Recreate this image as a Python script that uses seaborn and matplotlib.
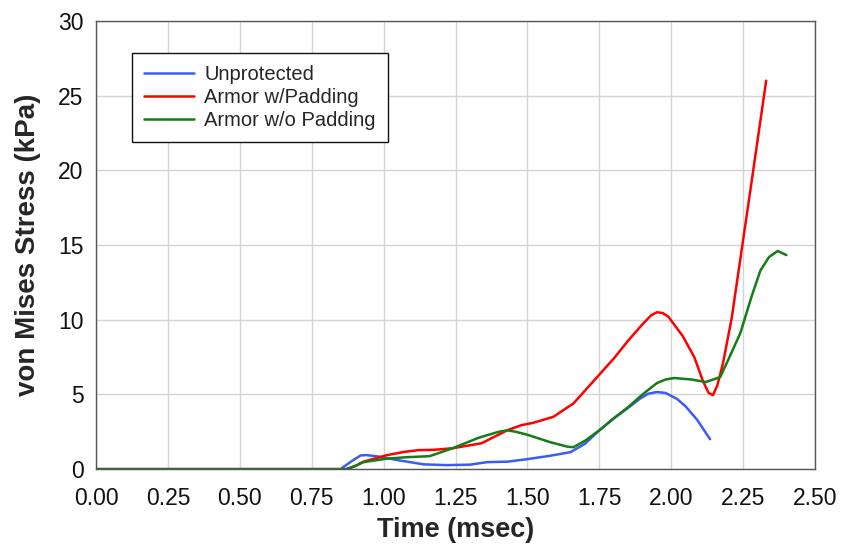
import numpy as np
import pandas as pd
import matplotlib
matplotlib.use("Agg")
import matplotlib.pyplot as plt
import seaborn as sns

# values (time in msec, stress in kPa)
unprot_t = [0.00, 0.85, 0.89, 0.92, 0.94, 0.98, 1.05, 1.14, 1.22, 1.30, 1.36, 1.43, 1.50, 1.58, 1.65,
            1.70, 1.75, 1.80, 1.85, 1.89, 1.92, 1.95, 1.98, 2.02, 2.05, 2.09, 2.135]
unprot_s = [0.0, 0.0, 0.55, 0.92, 0.94, 0.85, 0.6, 0.32, 0.27, 0.3, 0.47, 0.5, 0.67, 0.9, 1.14,
            1.7, 2.6, 3.4, 4.1, 4.7, 5.05, 5.16, 5.1, 4.7, 4.2, 3.3, 2.0]

padded_t = [0.00, 0.87, 0.90, 0.93, 1.01, 1.07, 1.12, 1.18, 1.24, 1.34, 1.43, 1.48, 1.52, 1.59,
            1.66, 1.73, 1.80, 1.85, 1.90, 1.93, 1.95, 1.97, 1.99, 2.04, 2.08, 2.11, 2.13, 2.145,
            2.16, 2.18, 2.21, 2.27, 2.33]
padded_s = [0.0, 0.0, 0.2, 0.5, 0.93, 1.15, 1.27, 1.3, 1.4, 1.73, 2.6, 2.95, 3.1, 3.5,
            4.4, 5.9, 7.4, 8.6, 9.7, 10.3, 10.5, 10.45, 10.2, 8.9, 7.5, 5.9, 5.1, 4.95,
            5.6, 7.1, 10.1, 18.0, 26.0]

unpadded_t = [0.00, 0.87, 0.90, 0.93, 1.01, 1.08, 1.16, 1.24, 1.33, 1.40, 1.43, 1.46, 1.50, 1.58, 1.64,
              1.66, 1.70, 1.75, 1.80, 1.85, 1.90, 1.95, 1.98, 2.01, 2.07, 2.12, 2.17, 2.20, 2.24,
              2.28, 2.31, 2.34, 2.37, 2.40]
unpadded_s = [0.0, 0.0, 0.2, 0.47, 0.7, 0.8, 0.87, 1.4, 2.1, 2.5, 2.6, 2.5, 2.3, 1.8, 1.5,
              1.47, 1.9, 2.6, 3.4, 4.15, 5.0, 5.76, 6.0, 6.1, 6.0, 5.83, 6.16, 7.4, 9.1,
              11.6, 13.3, 14.2, 14.6, 14.33]

series_names = ["Unprotected", "Armor w/Padding", "Armor w/o Padding"]
colors = {"Unprotected": "#3a5cf5", "Armor w/Padding": "#ff0000", "Armor w/o Padding": "#157d15"}

df = pd.concat([
    pd.DataFrame({"t": unprot_t, "s": unprot_s, "case": series_names[0]}),
    pd.DataFrame({"t": padded_t, "s": padded_s, "case": series_names[1]}),
    pd.DataFrame({"t": unpadded_t, "s": unpadded_s, "case": series_names[2]}),
])

sns.set_theme(style="whitegrid")
plt.rcParams['font.family'] = ['Liberation Sans', 'DejaVu Sans']

fig = plt.figure(figsize=(8.45, 5.5), dpi=100)
ax = fig.add_axes([0.1136, 0.147, 0.851, 0.815])

sns.lineplot(data=df, x="t", y="s", hue="case", hue_order=series_names, palette=colors,
             estimator=None, sort=False, linewidth=1.8, ax=ax)

ax.set_xlim(0, 2.5)
ax.set_ylim(0, 30)
ax.set_xticks(np.arange(0, 2.51, 0.25))
ax.set_xticklabels([f"{v:.2f}" for v in np.arange(0, 2.51, 0.25)])
ax.set_yticks(np.arange(0, 31, 5))
ax.tick_params(length=0, labelsize=16.5, colors="#111111")
ax.tick_params(axis="x", pad=13)
ax.tick_params(axis="y", pad=9)
ax.grid(color="#d4d4d4", linewidth=1)
for sp in ax.spines.values():
    sp.set_color("#555555")
    sp.set_linewidth(1)
ax.set_xlabel("Time (msec)", fontsize=19.5, fontweight="bold", labelpad=5)
ax.set_ylabel("von Mises Stress (kPa)", fontsize=20, fontweight="bold", labelpad=12)

leg = ax.legend(loc="upper left", bbox_to_anchor=(0.05, 0.929), borderaxespad=0,
                fontsize=14.5, handlelength=2.5, handletextpad=0.5, borderpad=0.6,
                labelspacing=0.2, fancybox=False, framealpha=1, edgecolor="#111111")
leg.get_frame().set_linewidth(1)

fig.savefig("out.png", dpi=100)
